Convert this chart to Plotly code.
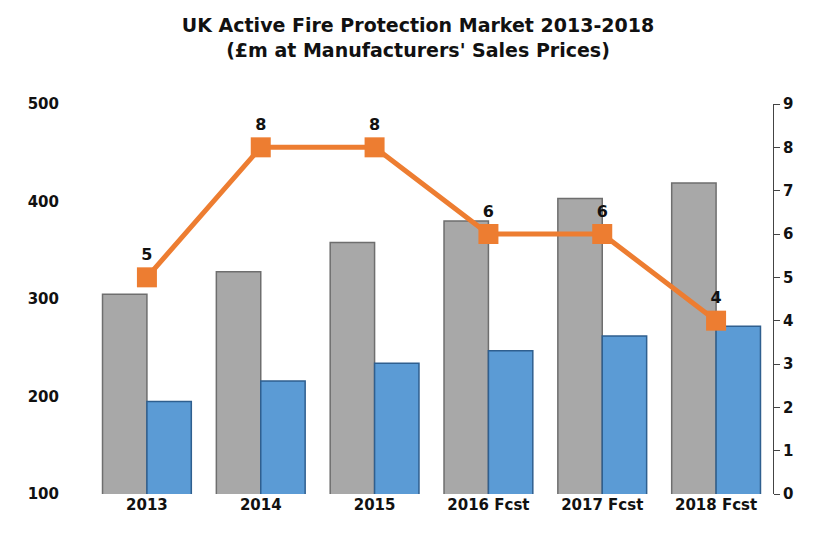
import plotly.graph_objects as go

years = ["2013", "2014", "2015", "2016 Fcst", "2017 Fcst", "2018 Fcst"]
market = [305, 328, 358, 380, 403, 419]
second = [195, 216, 234, 247, 262, 272]
growth = [5, 8, 8, 6, 6, 4]

font = dict(family="DejaVu Sans", size=15, color="#111")

fig = go.Figure()
fig.add_trace(go.Bar(x=years, y=market, marker=dict(color="#a8a8a8", line=dict(color="#6e6e6e", width=1.5)),
                     showlegend=False))
fig.add_trace(go.Bar(x=years, y=second, marker=dict(color="#5b9bd5", line=dict(color="#2f5f8f", width=1.5)),
                     showlegend=False))
fig.add_trace(go.Scatter(x=years, y=growth, yaxis="y2", mode="lines+markers+text",
                         line=dict(color="#ed7d31", width=5),
                         marker=dict(symbol="square", size=20, color="#ed7d31"),
                         text=["<b>%d</b>" % v for v in growth], textposition="top center",
                         textfont=dict(family="DejaVu Sans", size=16, color="#111"),
                         showlegend=False))

fig.update_layout(
    width=820, height=539,
    title=dict(text="<b>UK Active Fire Protection Market 2013-2018<br>(£m at Manufacturers' Sales Prices)</b>",
               x=0.5, y=0.955, font=dict(family="DejaVu Sans", size=19, color="#111")),
    barmode="group", bargap=0.22, bargroupgap=0.0,
    plot_bgcolor="white", paper_bgcolor="white",
    margin=dict(l=82, r=55, t=96, b=53),
    xaxis=dict(tickfont=font, tickprefix="<b>", ticksuffix="</b>", showline=False),
    yaxis=dict(range=[100, 500], dtick=100, tickfont=font, tickprefix="<b>", ticksuffix="</b>",
               showgrid=False, zeroline=False, ticks="", ticklabelstandoff=30),
    yaxis2=dict(range=[0, 9], dtick=1, overlaying="y", side="right", tickfont=font,
                tickprefix="<b>", ticksuffix="</b>", showgrid=False, showline=True,
                linecolor="#444", ticks="outside", ticklen=6, tickcolor="#444"),
)
fig.write_html("out.html")
